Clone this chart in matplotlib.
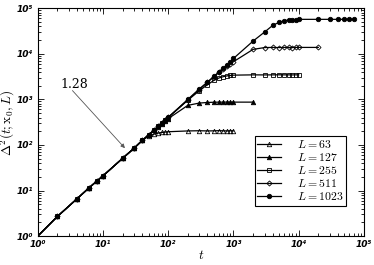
import math
import matplotlib
matplotlib.use("Agg")
import matplotlib.pyplot as plt
from matplotlib.ticker import FuncFormatter, LogLocator, NullFormatter

plt.rcParams['mathtext.fontset'] = 'cm'

# sampling times (same grid for every L, each curve stops at its own length)
t = [1, 2, 4, 6, 8, 10, 20, 30, 40, 50, 60, 70, 80, 90, 100,
     200, 300, 400, 500, 600, 700, 800, 900, 1000,
     2000, 3000, 4000, 5000, 6000, 7000, 8000, 9000, 10000,
     20000, 30000, 40000, 50000, 60000, 70000]

early = [1, 2.7, 6.6, 11.2, 16, 21, 51, 85, 126]

d63 = early + [155, 172, 182, 188, 192, 195,
               203, 205, 203, 204, 206, 204, 203, 205, 204]
d127 = early + [166, 208, 250, 295, 338, 378,
                740, 830, 855, 865, 870, 868, 872, 870, 870,
                870]
d255 = early + [166, 210, 255, 303, 350, 400,
                960, 1550, 2100, 2600, 2950, 3150, 3280, 3350, 3400,
                3450, 3440, 3450, 3460, 3450, 3450, 3440, 3450, 3450]
d511 = early + [166, 210, 255, 303, 352, 403,
                979, 1640, 2370, 3120, 3900, 4700, 5400, 6100, 6700,
                12500, 13700, 13800, 13700, 13800, 13800, 13700, 13800, 13800,
                13800]
d1023 = early + [166, 210, 255, 303, 352, 403,
                 1000, 1700, 2400, 3200, 4000, 4900, 5800, 6700, 7900,
                 19000, 30000, 42000, 49000, 53000, 55000, 56000, 56500, 57000,
                 57000, 57000, 57000, 57000, 57000, 57000]

series = [
    ("$L = 63$", d63, "^", "none"),
    ("$L = 127$", d127, "^", "black"),
    ("$L = 255$", d255, "s", "none"),
    ("$L = 511$", d511, "D", "none"),
    ("$L = 1023$", d1023, "o", "black"),
]

fig = plt.figure(figsize=(3.74, 2.65), dpi=100)
ax = fig.add_axes([0.101, 0.109, 0.872, 0.860])

for label, d, m, fc in series:
    ms = 3.2 if m != "D" else 2.6
    ax.plot(t[:len(d)], d, color="black", lw=0.9, marker=m, ms=ms,
            mfc=fc, mec="black", mew=0.6, markevery=list(range(1, len(d))),
            label=label)

ax.set_xscale("log")
ax.set_yscale("log")
ax.set_xlim(1, 1e5)
ax.set_ylim(1, 1e5)

sup = str.maketrans("0123456789", "⁰¹²³⁴⁵⁶⁷⁸⁹")
fmt = FuncFormatter(lambda v, p: "10" + str(int(round(math.log10(v)))).translate(sup))
for axis in (ax.xaxis, ax.yaxis):
    axis.set_major_locator(LogLocator(base=10, numticks=10))
    axis.set_minor_locator(LogLocator(base=10, subs=range(2, 10), numticks=10))
    axis.set_major_formatter(fmt)
    axis.set_minor_formatter(NullFormatter())
ax.tick_params(which="both", direction="in", top=True, right=True, width=0.6)
ax.tick_params(which="major", length=4, labelsize=6.5, pad=3)
ax.tick_params(which="minor", length=2)
for lab in ax.get_xticklabels() + ax.get_yticklabels():
    lab.set_fontstyle("italic")
    lab.set_fontweight("bold")
for s in ax.spines.values():
    s.set_linewidth(0.8)

ax.set_xlabel("$t$", fontsize=9.5, labelpad=0)
ax.set_ylabel(r"$\Delta^2(t;\mathrm{x}_0,L)$", fontsize=9.5, labelpad=0)

ax.text(3.6, 2140, "1.28", fontsize=9, family="serif",
        math_fontfamily="cm", ha="center", va="center")
ax.annotate("", xy=(21.7, 85), xytext=(3.4, 1560),
            arrowprops=dict(arrowstyle="-|>", color="#555555", lw=0.6,
                            mutation_scale=6, shrinkA=0, shrinkB=0))

leg = ax.legend(loc="lower right", bbox_to_anchor=(0.945, 0.133),
                fontsize=8.5, frameon=True, fancybox=False, edgecolor="black",
                framealpha=1, handlelength=2.0, handletextpad=1.4,
                borderpad=0.2, labelspacing=0.0, borderaxespad=0)
leg.get_frame().set_linewidth(0.8)

fig.savefig("out.png", dpi=100)
